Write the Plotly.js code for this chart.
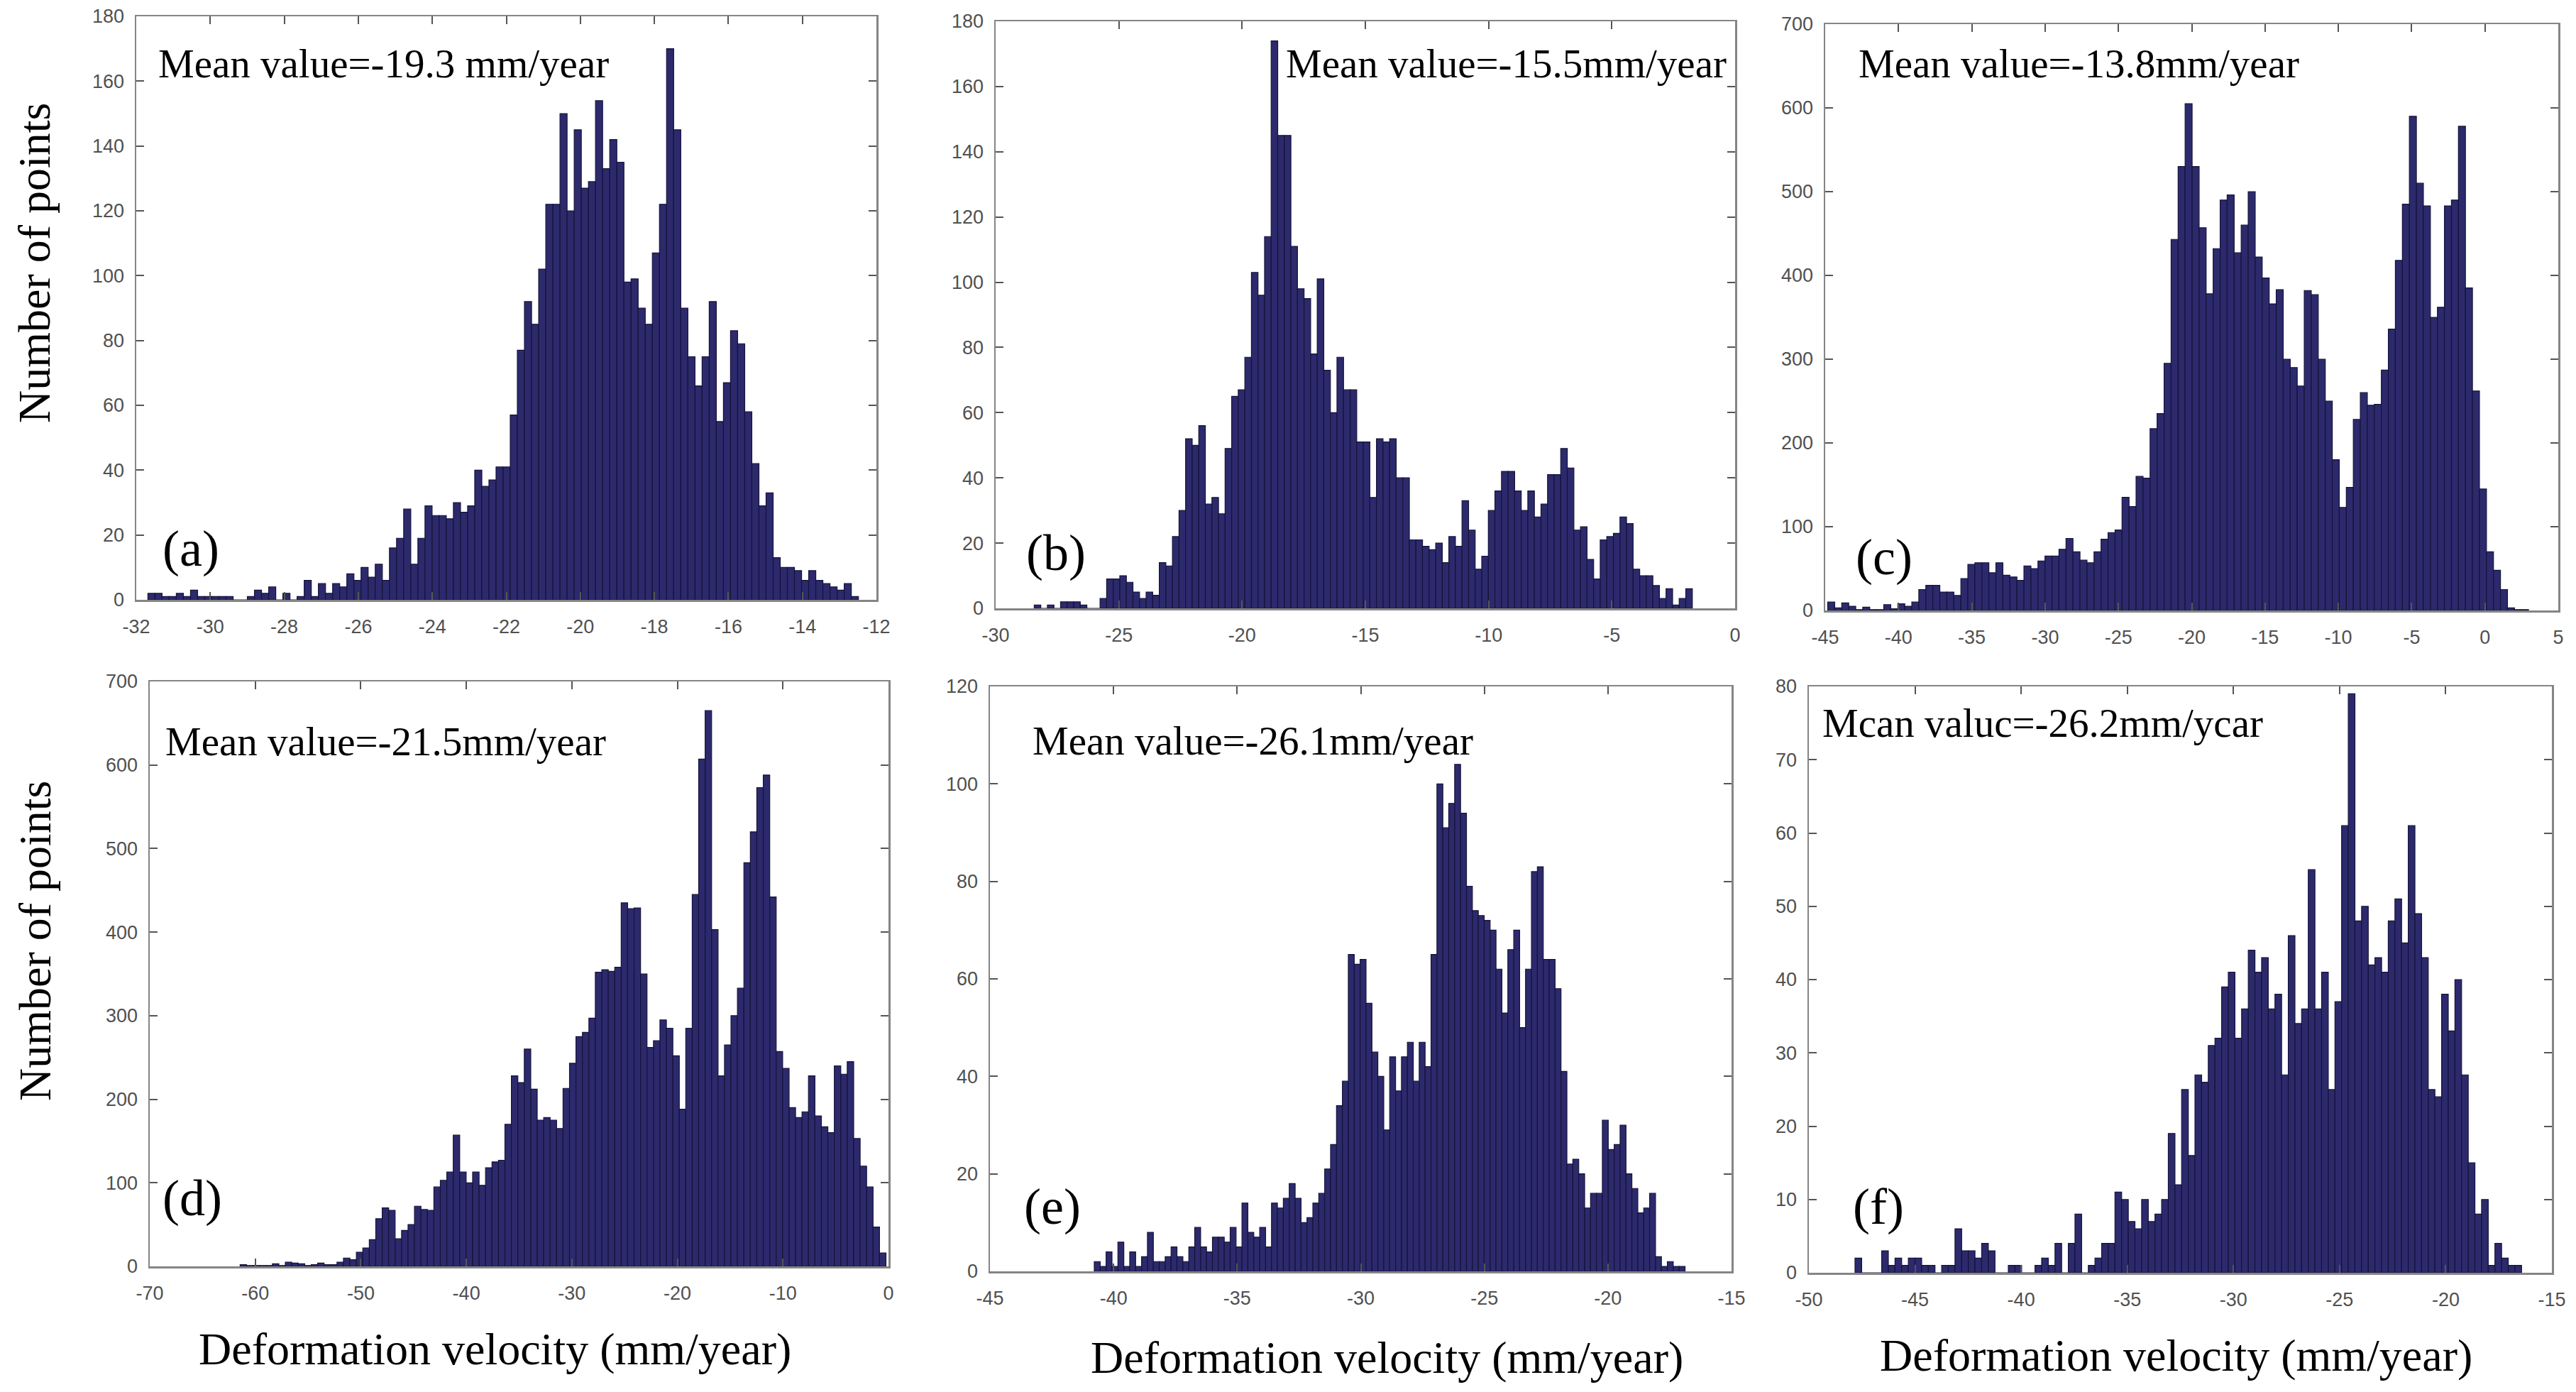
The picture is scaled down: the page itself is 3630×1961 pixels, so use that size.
<!DOCTYPE html>
<html>
<head>
<meta charset="utf-8">
<script src="https://cdn.plot.ly/plotly-3.0.1.min.js"></script>
<style>html,body{margin:0;padding:0;background:#fff;}#chart{width:3630px;height:1961px;}</style>
</head>
<body>
<div id="chart"></div>
<script>
// ---------- data ----------
const binStart_a = -31.59, binWidth_a = 0.192;
const counts_a = [2,2,1,1,2,1,3,1,1,1, 1,1,0,0,1,3,2,4,0,2, 0,1,6,1,5,2,5,4,8,6, 10,7,11,6,16,19,28,11,19,29,
  26,26,25,30,27,29,40,35,37,41, 41,57,77,92,85,102,122,122,150,120, 145,127,129,154,133,142,135,98,99,90,
  85,107,122,170,145,90,75,66,75,92, 55,67,83,79,58,42,29,33,13,10, 10,9,6,9,6,5,4,3,5,1];

const binStart_b = -28.30, binWidth_b = 0.267;
const counts_b = [1,0,1,0,2,2,2,1,0,0, 3,9,9,10,8,5,3,5,4,14, 13,22,30,52,50,56,32,34,29,49, 65,67,77,103,96,114,174,145,145,111,
  98,95,78,101,73,60,77,67,67,51, 51,34,52,51,52,40,40,21,21,19, 18,20,14,22,19,33,24,12,16,30,
  36,42,42,36,30,36,28,32,41,41, 49,43,24,25,15,9,21,22,23,28, 26,12,10,10,7,3,6,1,3,6];

const binStart_c = -44.59, binWidth_c = 0.478;
const counts_c = [10,3,9,5,1,4,1,1,7,2, 8,5,10,25,30,30,22,22,18,38, 55,57,57,45,57,42,40,36,53,50, 59,65,65,73,86,70,60,57,70,85,
  93,96,135,124,160,158,217,235,295,443, 530,605,530,457,378,432,490,496,427,460, 500,422,397,366,383,300,290,268,382,377,
  300,250,180,123,147,228,260,245,246,287, 336,418,485,590,510,483,350,362,483,490, 578,385,262,145,70,48,25,3,1,1];

const binStart_d = -61.13, binWidth_d = 0.612;
const counts_d = [2,1,1,1,1,3,1,5,4,3, 1,2,4,2,2,5,10,8,17,22, 32,57,70,67,33,43,50,72,68,67, 95,103,113,157,113,100,113,97,118,125,
  127,170,228,220,260,212,175,178,175,165, 213,243,275,280,297,352,355,353,358,435, 428,429,350,262,270,295,285,252,188,285,
  445,607,665,403,228,265,300,333,483,520, 573,588,442,257,237,190,178,185,228,180, 167,160,240,230,245,153,120,95,47,16];

const binStart_e = -40.66, binWidth_e = 0.239;
const counts_e = [2,1,4,1,6,1,4,1,3,8, 2,2,3,5,3,2,5,9,5,4, 7,7,6,9,5,14,8,7,9,5, 14,13,15,18,15,10,11,14,16,21,
  26,34,39,65,63,64,55,45,40,29, 44,37,44,47,39,47,42,65,100,91, 96,104,94,79,74,73,72,70,62,53,
  66,70,50,62,82,83,64,64,58,41, 22,23,20,13,16,16,31,25,26,30, 20,17,12,13,16,3,1,2,1,1];

const binStart_f = -47.67, binWidth_f = 0.314;
const counts_f = [2,0,0,0,3,1,2,1,2,2, 1,1,0,1,1,6,3,3,2,4, 3,0,0,1,1,0,0,1,2,1, 4,0,4,8,0,1,2,4,4,11,
  10,7,6,10,7,8,10,19,12,25, 16,27,26,31,32,39,41,32,36,44, 41,43,36,38,27,46,34,36,55,36,
  41,25,37,61,79,48,50,42,43,41, 48,51,45,61,49,43,25,24,38,33, 40,27,15,8,10,1,4,2,1,1];

const xTicks_a = [-32,-30,-28,-26,-24,-22,-20,-18,-16,-14,-12];
const yTicks_a = [0,20,40,60,80,100,120,140,160,180];
const xTicks_b = [-30,-25,-20,-15,-10,-5,0];
const yTicks_b = [0,20,40,60,80,100,120,140,160,180];
const xTicks_c = [-45,-40,-35,-30,-25,-20,-15,-10,-5,0,5];
const yTicks_c = [0,100,200,300,400,500,600,700];
const xTicks_d = [-70,-60,-50,-40,-30,-20,-10,0];
const yTicks_d = [0,100,200,300,400,500,600,700];
const xTicks_e = [-45,-40,-35,-30,-25,-20,-15];
const yTicks_e = [0,20,40,60,80,100,120];
const xTicks_f = [-50,-45,-40,-35,-30,-25,-20,-15];
const yTicks_f = [0,10,20,30,40,50,60,70,80];

const meanTexts = ["Mean value=-19.3 mm/year","Mean value=-15.5mm/year","Mean value=-13.8mm/year",
                   "Mean value=-21.5mm/year","Mean value=-26.1mm/year","Mcan valuc=-26.2mm/ycar"];
const panelLabels = ["(a)","(b)","(c)","(d)","(e)","(f)"];
const yTitle = "Number of points";
const xTitle = "Deformation velocity (mm/year)";

// ---------- layout ----------
const W = 3630, H = 1961;
const px = v => v / W, py = v => 1 - v / H;

const panels = [
  {c: counts_a, s: binStart_a, w: binWidth_a, xt: xTicks_a, yt: yTicks_a, box: [192,1235,23,845],  mean: [221,89],   lab: [269,773]},
  {c: counts_b, s: binStart_b, w: binWidth_b, xt: xTicks_b, yt: yTicks_b, box: [1403,2445,30,857], mean: [1810,89],  lab: [1488,779]},
  {c: counts_c, s: binStart_c, w: binWidth_c, xt: xTicks_c, yt: yTicks_c, box: [2572,3605,34,860], mean: [2617,89],  lab: [2655,785]},
  {c: counts_d, s: binStart_d, w: binWidth_d, xt: xTicks_d, yt: yTicks_d, box: [211,1252,960,1784], mean: [231,1044], lab: [271,1688]},
  {c: counts_e, s: binStart_e, w: binWidth_e, xt: xTicks_e, yt: yTicks_e, box: [1395,2440,967,1791], mean: [1453,1043], lab: [1483,1700]},
  {c: counts_f, s: binStart_f, w: binWidth_f, xt: xTicks_f, yt: yTicks_f, box: [2549,3596,967,1793], mean: [2566,1018], lab: [2647,1700]}
];

const serif = "'Times New Roman', 'Liberation Serif', serif";
const sans = "Arial, 'Liberation Sans', sans-serif";
const tickFont = {family: sans, size: 27, color: '#505050'};

const traces = [];
const layout = {
  width: W, height: H,
  margin: {l:0, r:0, t:0, b:0},
  paper_bgcolor: '#ffffff', plot_bgcolor: '#ffffff',
  showlegend: false, bargap: 0,
  annotations: []
};

panels.forEach((p, i) => {
  const n = i === 0 ? '' : String(i + 1);
  traces.push({
    type: 'bar', x0: p.s, dx: p.w, y: p.c,
    xaxis: 'x' + n, yaxis: 'y' + n,
    marker: {color: '#2c2a6c', line: {color: '#15133a', width: 1.2}},
    hoverinfo: 'skip'
  });
  const axCommon = {
    showgrid: false, zeroline: false, showline: true, mirror: 'ticks',
    linecolor: '#858585', linewidth: 2.5, ticks: 'inside', ticklen: 11,
    tickwidth: 2, tickcolor: '#555555', tickfont: tickFont, fixedrange: true
  };
  layout['xaxis' + n] = Object.assign({}, axCommon, {
    domain: [px(p.box[0]), px(p.box[1])], anchor: 'y' + n,
    range: [p.xt[0], p.xt[p.xt.length - 1]], tickmode: 'array',
    tickvals: p.xt, ticktext: p.xt.map(String), ticklabelstandoff: 12
  });
  layout['yaxis' + n] = Object.assign({}, axCommon, {
    domain: [py(p.box[3]), py(p.box[2])], anchor: 'x' + n,
    range: [p.yt[0], p.yt[p.yt.length - 1]], tickmode: 'array',
    tickvals: p.yt, ticktext: p.yt.map(String), ticklabelstandoff: 9
  });
  layout.annotations.push({
    xref: 'paper', yref: 'paper', x: px(p.mean[0]), y: py(p.mean[1]),
    xanchor: 'left', yanchor: 'middle', showarrow: false, text: meanTexts[i],
    font: {family: serif, size: 57, color: '#000000'}
  });
  layout.annotations.push({
    xref: 'paper', yref: 'paper', x: px(p.lab[0]), y: py(p.lab[1]),
    xanchor: 'center', yanchor: 'middle', showarrow: false, text: panelLabels[i],
    font: {family: serif, size: 72, color: '#000000'}
  });
});

[[49,370],[49,1325]].forEach(pos => layout.annotations.push({
  xref: 'paper', yref: 'paper', x: px(pos[0]), y: py(pos[1]), textangle: -90,
  xanchor: 'center', yanchor: 'middle', showarrow: false, text: yTitle,
  font: {family: serif, size: 64, color: '#000000'}
}));
[[697,1900],[1955,1912],[3066,1909]].forEach(pos => layout.annotations.push({
  xref: 'paper', yref: 'paper', x: px(pos[0]), y: py(pos[1]),
  xanchor: 'center', yanchor: 'middle', showarrow: false, text: xTitle,
  font: {family: serif, size: 64, color: '#000000'}
}));

Plotly.newPlot('chart', traces, layout, {displayModeBar: false, staticPlot: true});
</script>
</body>
</html>
